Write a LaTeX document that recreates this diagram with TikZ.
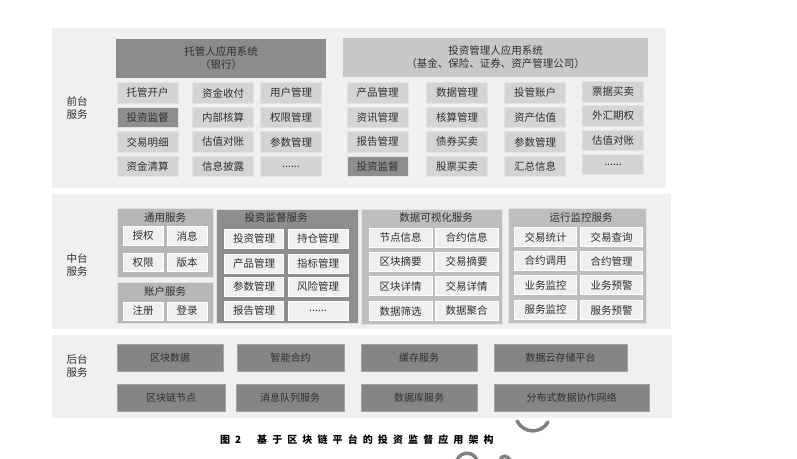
\documentclass[tikz,border=0pt]{standalone}
\usepackage{fontspec}
\setmainfont{Noto Sans CJK SC}
\definecolor{panelbg}{HTML}{F0F0F0}
\definecolor{hdrdark}{HTML}{8C8C8C}
\definecolor{hdrlight}{HTML}{C8C8C8}
\definecolor{cellgray}{HTML}{D4D4D4}
\definecolor{celldark}{HTML}{8F8F8F}
\definecolor{cellline}{HTML}{E2E2E2}
\definecolor{grplight}{HTML}{B6B6B6}
\definecolor{grpdark}{HTML}{8E8E8E}
\definecolor{grpmid}{HTML}{BEBEBE}
\definecolor{innercell}{HTML}{F0F0F0}
\definecolor{backgray}{HTML}{858585}
\definecolor{backline}{HTML}{A5A5A5}
\definecolor{txt}{HTML}{2E2E2E}
\begin{document}
\begin{tikzpicture}[x=1pt,y=-1pt,
  panel/.style={fill=panelbg, inner sep=0pt},
  lbl/.style={align=center, text=txt, inner sep=0pt, font=\fontsize{10.5}{12.5}\selectfont},
  head/.style={align=center, text=txt, inner sep=0pt, font=\fontsize{10.5}{13}\selectfont},
  cell/.style={fill=cellgray, draw=cellline, line width=0.6pt, inner sep=0pt, minimum width=61pt, minimum height=20.5pt, text=txt, font=\fontsize{10.5}{12}\selectfont},
  darkcell/.style={cell, fill=celldark},
  grp/.style={inner sep=0pt, draw=cellline, line width=0.4pt},
  grptitle/.style={text=txt, inner sep=0pt, font=\fontsize{10.5}{12}\selectfont},
  item/.style={fill=innercell, draw=white, line width=0.6pt, inner sep=0pt, minimum height=18.5pt, text=txt, font=\fontsize{10.5}{12}\selectfont},
  backbox/.style={fill=backgray, draw=backline, line width=0.6pt, inner sep=0pt, minimum height=27pt, text=txt, font=\fontsize{10}{12}\selectfont},
  arcline/.style={draw=gray, line width=3.5pt, line cap=round}]
\useasboundingbox (0,0) rectangle (797,458);

\node[panel, minimum width=614pt, minimum height=160pt] (front) at (359,108) {};
\node[panel, minimum width=619pt, minimum height=135pt] (middle) at (361.5,261.5) {};
\node[panel, minimum width=620pt, minimum height=83pt] (back) at (362,376.5) {};
\node[lbl] (lblfront) at (77,108) {前台\\服务};
\node[lbl] (lblmiddle) at (77,265) {中台\\服务};
\node[lbl] (lblback) at (77,366) {后台\\服务};

\node[head, fill=hdrdark, minimum width=210pt, minimum height=39pt] (bank) at (221,58.5) {托管人应用系统\\（银行）};
\node[cell] (tgkh) at (147.5,93) {托管开户};
\node[cell] (zjsf) at (223,93) {资金收付};
\node[cell] (yhgl) at (291,93) {用户管理};
\node[darkcell] (tzjd) at (147.5,117.5) {投资监督};
\node[cell] (nbhs) at (223,117.5) {内部核算};
\node[cell] (qxgl) at (291,117.5) {权限管理};
\node[cell] (jymx) at (147.5,142) {交易明细};
\node[cell] (gzdz) at (223,142) {估值对账};
\node[cell] (csgl) at (291,142) {参数管理};
\node[cell] (zjqs) at (147.5,166.5) {资金清算};
\node[cell] (xxpl) at (223,166.5) {信息披露};
\node[cell] (moreb) at (291,166.5) {......};

\node[head, fill=hdrlight, minimum width=305pt, minimum height=39pt] (invest) at (495.5,57.5) {投资管理人应用系统\\（基金、保险、证券、资产管理公司）};
\node[cell] (cpgl) at (377.5,93) {产品管理};
\node[cell] (sjgl) at (457,93) {数据管理};
\node[cell] (tgzh) at (535,93) {投管账户};
\node[cell] (pjmm) at (613,92) {票据买卖};
\node[cell] (zxgl) at (377.5,117.5) {资讯管理};
\node[cell] (hsgl) at (457,117.5) {核算管理};
\node[cell] (zcgz) at (535,117.5) {资产估值};
\node[cell] (whqq) at (613,116) {外汇期权};
\node[cell] (bggl) at (377.5,142) {报告管理};
\node[cell] (zqmm) at (457,142) {债券买卖};
\node[cell] (csgl2) at (535,142) {参数管理};
\node[cell] (gzdz2) at (613,140.5) {估值对账};
\node[darkcell] (tzjd2) at (377.5,166.5) {投资监督};
\node[cell] (gpmm) at (457,166.5) {股票买卖};
\node[cell] (hzxx) at (535,166.5) {汇总信息};
\node[cell] (morei) at (613,164.5) {......};

\node[grp, fill=grplight, minimum width=96pt, minimum height=69pt] (tongyong) at (165,242.5) {};
\node[grptitle] (tongyongt) at (165,218) {通用服务};
\node[item, minimum width=40pt] (sq) at (143,236) {授权};
\node[item, minimum width=40pt] (xx) at (187,236) {消息};
\node[item, minimum width=40pt] (qx) at (143,262.5) {权限};
\node[item, minimum width=40pt] (bb) at (187,262.5) {版本};
\node[grp, fill=grplight, minimum width=96pt, minimum height=41pt] (zhanghu) at (165,302.5) {};
\node[grptitle] (zhanghut) at (165,292) {账户服务};
\node[item, minimum width=40pt, minimum height=18pt] (zc) at (143,311) {注册};
\node[item, minimum width=40pt, minimum height=18pt] (dl) at (187,311) {登录};

\node[grp, fill=grpdark, minimum width=142pt, minimum height=114pt] (jiandu) at (287,266) {};
\node[grptitle] (jiandut) at (276,218) {投资监督服务};
\node[item, minimum width=59pt, minimum height=19pt] (jdtz) at (254,238.5) {投资管理};
\node[item, minimum width=60pt, minimum height=19pt] (jdcc) at (318,238.5) {持仓管理};
\node[item, minimum width=59pt, minimum height=19pt] (jdcp) at (254,263.5) {产品管理};
\node[item, minimum width=60pt, minimum height=19pt] (jdzb) at (318,263.5) {指标管理};
\node[item, minimum width=59pt, minimum height=19pt] (jdcs) at (254,286.5) {参数管理};
\node[item, minimum width=60pt, minimum height=19pt] (jdfx) at (318,286.5) {风险管理};
\node[item, minimum width=59pt, minimum height=19pt] (jdbg) at (254,311) {报告管理};
\node[item, minimum width=60pt, minimum height=19pt] (jdmore) at (318,311) {......};

\node[grp, fill=grpmid, minimum width=141pt, minimum height=115pt] (keshi) at (431.5,266.5) {};
\node[grptitle] (keshit) at (436,218) {数据可视化服务};
\node[item, minimum width=63pt, minimum height=19pt] (ksjd) at (400.5,237.5) {节点信息};
\node[item, minimum width=63pt, minimum height=19pt] (kshy) at (466.5,237.5) {合约信息};
\node[item, minimum width=63pt, minimum height=19pt] (ksqkz) at (400.5,261.5) {区块摘要};
\node[item, minimum width=63pt, minimum height=19pt] (ksjyz) at (466.5,261.5) {交易摘要};
\node[item, minimum width=63pt, minimum height=19pt] (ksqkx) at (400.5,286) {区块详情};
\node[item, minimum width=63pt, minimum height=19pt] (ksjyx) at (466.5,286) {交易详情};
\node[item, minimum width=63pt, minimum height=19pt] (kssx) at (400.5,311) {数据筛选};
\node[item, minimum width=63pt, minimum height=19pt] (ksjh) at (466.5,311) {数据聚合};

\node[grp, fill=grpmid, minimum width=138pt, minimum height=115pt] (jiankong) at (577,265.5) {};
\node[grptitle] (jiankongt) at (581,218) {运行监控服务};
\node[item, minimum width=62pt] (jktj) at (545.5,237) {交易统计};
\node[item, minimum width=62pt] (jkcx) at (611.5,237) {交易查询};
\node[item, minimum width=62pt] (jkdy) at (545.5,261) {合约调用};
\node[item, minimum width=62pt] (jkhy) at (611.5,261) {合约管理};
\node[item, minimum width=62pt] (jkywj) at (545.5,285) {业务监控};
\node[item, minimum width=62pt] (jkywy) at (611.5,285) {业务预警};
\node[item, minimum width=62pt] (jkfwj) at (545.5,310) {服务监控};
\node[item, minimum width=62pt] (jkfwy) at (611.5,310) {服务预警};

\node[backbox, minimum width=106pt] (qksj) at (170,357.5) {区块数据};
\node[backbox, minimum width=107pt] (znhy) at (290.5,357.5) {智能合约};
\node[backbox, minimum width=116pt] (hcfw) at (419,357.5) {缓存服务};
\node[backbox, minimum width=133pt] (sjyc) at (560.5,357.5) {数据云存储平台};
\node[backbox, minimum width=108pt] (qkljd) at (171,397.5) {区块链节点};
\node[backbox, minimum width=108pt] (xxdl) at (290,397.5) {消息队列服务};
\node[backbox, minimum width=116pt] (sjkfw) at (419,397.5) {数据库服务};
\node[backbox, minimum width=155pt] (fbssj) at (571.5,397.5) {分布式数据协作网络};

\node[anchor=west, inner sep=0pt, font=\fontsize{10}{12}\selectfont\bfseries\addfontfeature{LetterSpace=50}] (fignum) at (220,440) {图2};
\node[anchor=west, inner sep=0pt, font=\fontsize{10}{12}\selectfont\bfseries\addfontfeature{LetterSpace=51}] (caption) at (257,440) {基于区块链平台的投资监督应用架构};

\draw[arcline] (517,421) .. controls (524,434) and (541,434) .. (548,422);
\draw[arcline] (457,460) .. controls (461,451) and (473,451) .. (477,460);
\draw[arcline] (500,460) .. controls (502,455) and (507,455) .. (510,460);
\end{tikzpicture}
\end{document}
